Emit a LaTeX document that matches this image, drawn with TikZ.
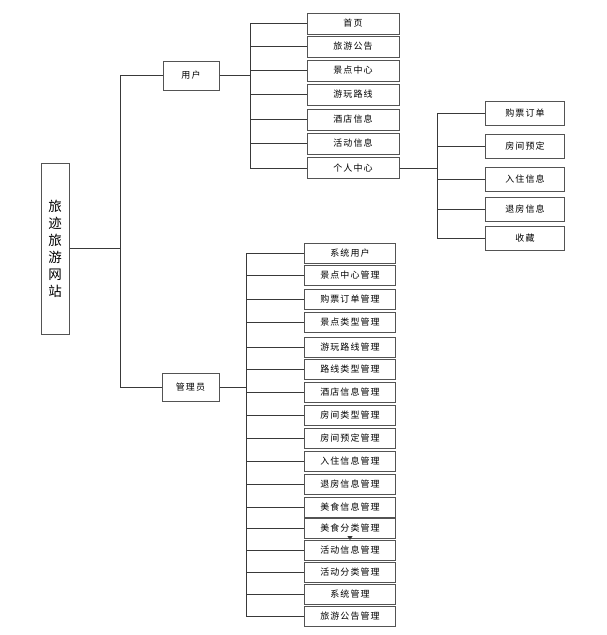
\documentclass[tikz,border=0pt]{standalone}
\usepackage{fontspec}
\setmainfont{Noto Sans CJK SC}
\newfontfamily\cjkspaced[LetterSpace=12]{Noto Sans CJK SC}
\usetikzlibrary{arrows.meta}
\tikzset{
  box/.style = {draw = gray!65!black, line width = 1pt, inner sep = 0pt, fill = white,
    font = \cjkspaced\fontsize{9}{10}\selectfont},
  ubox/.style = {box, minimum width = 92, minimum height = 21},
  abox/.style = {box, minimum width = 91, minimum height = 20},
  pbox/.style = {box, minimum width = 79, minimum height = 24},
  link/.style = {draw = gray!45!black, line width = .8pt}
}
\begin{document}
\begin{tikzpicture}[x = 1pt, y = -1pt]
\useasboundingbox (0,0) rectangle (607,635);
% root and first level
\node[box, minimum width = 28, minimum height = 171, align = center, font = \fontsize{13.5}{17}\selectfont] (root) at (55,248.5) {旅\\迹\\旅\\游\\网\\站};
\node[box, minimum width = 56, minimum height = 29] (user) at (191,75.5) {用户};
\node[box, minimum width = 57, minimum height = 28] (admin) at (190.5,387) {管理员};
\coordinate (rbus) at (120,248.5);
\draw[link] (root.east) -- (rbus);
\draw[link] (rbus |- user.west) -- (rbus |- admin.west);
\draw[link] (rbus |- user.west) -- (user.west);
\draw[link] (rbus |- admin.west) -- (admin.west);
% user
\node[ubox] (sy) at (353,23.5) {首页};
\node[ubox] (lygg) at (353,46.5) {旅游公告};
\node[ubox] (jdzx) at (353,70.5) {景点中心};
\node[ubox] (ywlx) at (353,94.5) {游玩路线};
\node[ubox] (jdxx) at (353,119.5) {酒店信息};
\node[ubox] (hdxx) at (353,143.5) {活动信息};
\node[ubox] (grzx) at (353,168) {个人中心};
\coordinate (ubus) at (250,75.5);
\draw[link] (user.east) -- (ubus);
\draw[link] (ubus |- sy.west) -- (ubus |- grzx.west);
\foreach \n in {sy,lygg,jdzx,ywlx,jdxx,hdxx,grzx}
  \draw[link] (ubus |- \n.west) -- (\n.west);
% personal center
\node[pbox] (gpdd) at (525,113.5) {购票订单};
\node[pbox] (fjyd) at (525,146) {房间预定};
\node[pbox] (rzxx) at (525,179.5) {入住信息};
\node[pbox] (tfxx) at (525,209) {退房信息};
\node[pbox] (sc) at (525,238.5) {收藏};
\coordinate (pbus) at (437,168);
\draw[link] (grzx.east) -- (pbus);
\draw[link] (pbus |- gpdd.west) -- (pbus |- sc.west);
\foreach \n in {gpdd,fjyd,rzxx,tfxx,sc}
  \draw[link] (pbus |- \n.west) -- (\n.west);
% admin
\node[abox] (xtyh) at (350,253.5) {系统用户};
\node[abox] (jdzxgl) at (350,275.5) {景点中心管理};
\node[abox] (gpddgl) at (350,299) {购票订单管理};
\node[abox] (jdlxgl) at (350,322.5) {景点类型管理};
\node[abox] (ywlxgl) at (350,347) {游玩路线管理};
\node[abox] (lxlxgl) at (350,369) {路线类型管理};
\node[abox] (jdxxgl) at (350,392.5) {酒店信息管理};
\node[abox] (fjlxgl) at (350,415) {房间类型管理};
\node[abox] (fjydgl) at (350,438.5) {房间预定管理};
\node[abox] (rzxxgl) at (350,461.5) {入住信息管理};
\node[abox] (tfxxgl) at (350,484.5) {退房信息管理};
\node[abox] (msxxgl) at (350,507) {美食信息管理};
\node[abox] (msflgl) at (350,528) {美食分类管理};
\node[abox] (hdxxgl) at (350,550.5) {活动信息管理};
\node[abox] (hdflgl) at (350,572.5) {活动分类管理};
\node[abox] (xtgl) at (350,594) {系统管理};
\node[abox] (lygggl) at (350,616) {旅游公告管理};
\coordinate (abus) at (246,387);
\draw[link] (admin.east) -- (abus);
\draw[link] (abus |- xtyh.west) -- (abus |- lygggl.west);
\foreach \n in {xtyh,jdzxgl,gpddgl,jdlxgl,ywlxgl,lxlxgl,jdxxgl,fjlxgl,fjydgl,rzxxgl,tfxxgl,msxxgl,msflgl,hdxxgl,hdflgl,xtgl,lygggl}
  \draw[link] (abus |- \n.west) -- (\n.west);
\draw[link, -{Triangle[width = 5pt, length = 4pt]}] (msflgl.south) -- (hdxxgl.north);
\end{tikzpicture}
\end{document}
